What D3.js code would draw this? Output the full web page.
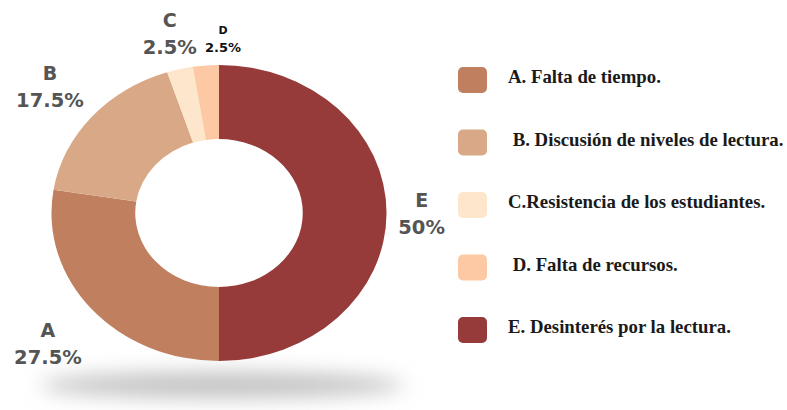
<!DOCTYPE html>
<html>
<head>
<meta charset="utf-8">
<script src="https://cdn.jsdelivr.net/npm/d3@7"></script>
<style>
  body { margin: 0; background: #fff; }
  .lbl { font-family: "DejaVu Sans", sans-serif; font-weight: bold; fill: #555; }
  .leg { font-family: "Liberation Serif", serif; font-weight: bold; fill: #1a1a1a; white-space: pre; }
</style>
</head>
<body>
<div id="chart"></div>
<script>
// donut data, drawn clockwise from the top
const keys = ["E", "A", "B", "C", "D"];
const values = [50, 27.5, 17.5, 2.5, 2.5];
const colors = ["#963a3a", "#c08060", "#d9a987", "#fde6cc", "#fcc9a4"];

// legend order and texts
const legendKeys = ["A", "B", "C", "D", "E"];
const legendTexts = [
  "A. Falta de tiempo.",
  " B. Discusión de niveles de lectura.",
  "C.Resistencia de los estudiantes.",
  " D. Falta de recursos.",
  "E. Desinterés por la lectura."
];

const W = 787, H = 410;
const cx = 219, cy = 213;
const R = 148;          // vertical radius
const sx = 1.132;       // donut is stretched horizontally

const svg = d3.select("#chart").append("svg")
  .attr("width", W)
  .attr("height", H);

const color = d3.scaleOrdinal().domain(keys).range(colors);

// soft shadow under the ring
const defs = svg.append("defs");
defs.append("filter").attr("id", "blur")
  .attr("x", "-30%").attr("y", "-200%").attr("width", "160%").attr("height", "500%")
  .append("feGaussianBlur").attr("stdDeviation", 10);

svg.append("ellipse")
  .attr("cx", 222).attr("cy", 385)
  .attr("rx", 182).attr("ry", 13)
  .attr("fill", "#c2c2c2")
  .attr("filter", "url(#blur)");

const pie = d3.pie().sort(null).value(d => d.v);
const arcs = pie(keys.map((k, i) => ({ k: k, v: values[i] })));

const arc = d3.arc().innerRadius(R * 0.5).outerRadius(R);
const labelArc = d3.arc().innerRadius(179).outerRadius(179);

const ring = svg.append("g")
  .attr("transform", `translate(${cx},${cy}) scale(${sx},1)`);

ring.selectAll("path")
  .data(arcs)
  .enter()
  .append("path")
  .attr("d", arc)
  .attr("fill", d => color(d.data.k));

// small nudges so the labels sit where the original put them
const nudge = { E: [0, 0], A: [-17, 14], B: [-15, -11], C: [-2, -6], D: [20, 1] };

const labels = svg.selectAll(".plabel")
  .data(arcs)
  .enter()
  .append("g")
  .attr("class", "plabel")
  .attr("transform", d => {
    const c = labelArc.centroid(d);
    const n = nudge[d.data.k];
    return `translate(${cx + c[0] * sx + n[0]},${cy + c[1] + n[1]})`;
  });

labels.each(function(d) {
  const g = d3.select(this);
  const small = d.data.k === "D";
  g.append("text")
    .attr("class", "lbl")
    .attr("text-anchor", "middle")
    .attr("y", small ? -2 : -6)
    .style("font-size", small ? "11px" : "19px")
    .style("fill", small ? "#111" : null)
    .text(d.data.k);
  g.append("text")
    .attr("class", "lbl")
    .attr("text-anchor", "middle")
    .attr("y", small ? 16 : 21)
    .style("font-size", small ? "13px" : "19.5px")
    .style("fill", small ? "#111" : null)
    .text(d3.format(".1~f")(d.data.v) + "%");
});

// legend
const ly = d3.scalePoint().domain(legendKeys).range([80, 330]);

const leg = svg.selectAll(".legrow")
  .data(legendKeys)
  .enter()
  .append("g")
  .attr("class", "legrow")
  .attr("transform", d => `translate(458,${ly(d)})`);

leg.append("rect")
  .attr("x", 0).attr("y", -13)
  .attr("width", 29).attr("height", 26)
  .attr("rx", 5)
  .attr("fill", d => color(d));

leg.append("text")
  .attr("class", "leg")
  .attr("x", 50)
  .attr("y", 3)
  .attr("xml:space", "preserve")
  .style("font-size", "18.8px")
  .text((d, i) => legendTexts[i]);
</script>
</body>
</html>
